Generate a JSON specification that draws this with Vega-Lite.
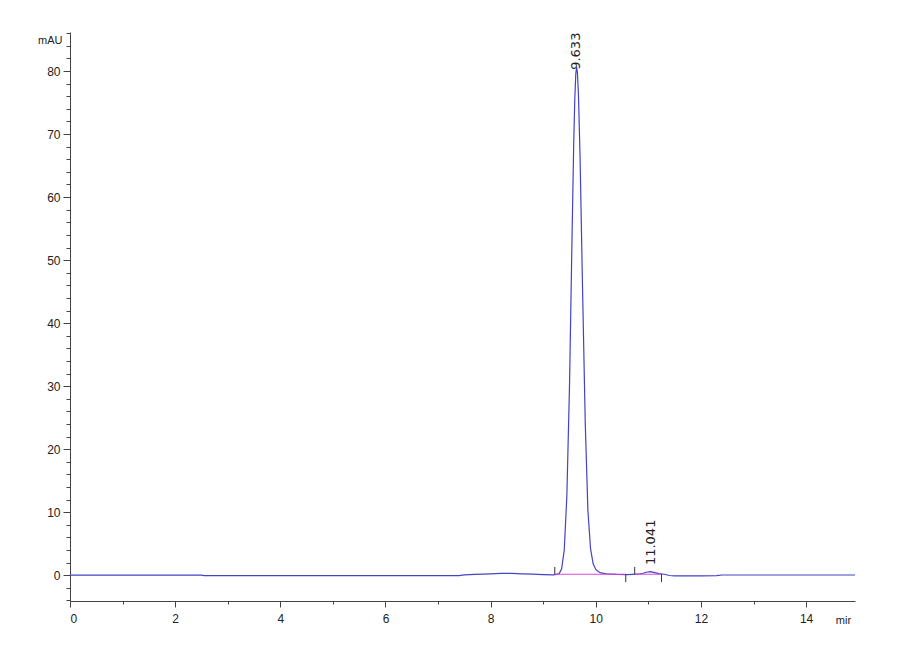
{
  "$schema": "https://vega.github.io/schema/vega-lite/v6.json",
  "width": 785,
  "height": 569,
  "autosize": {"type": "none"},
  "padding": {"left": 70, "top": 32, "right": 45, "bottom": 59},
  "background": "white",
  "config": {
    "view": {"stroke": null},
    "font": "Liberation Sans",
    "axis": {
      "domainColor": "#444",
      "tickColor": "#444",
      "labelColor": "#222",
      "titleColor": "#222",
      "labelFont": "Liberation Sans",
      "titleFont": "Liberation Sans",
      "labelFontSize": 12,
      "titleFontSize": 11,
      "titleFontWeight": "normal",
      "grid": false
    }
  },
  "datasets": {
    "trace": [
      {"t": 0, "mAU": 0}, {"t": 2.5, "mAU": 0}, {"t": 2.55, "mAU": -0.08},
      {"t": 7.4, "mAU": -0.08}, {"t": 7.5, "mAU": 0.05}, {"t": 7.7, "mAU": 0.12},
      {"t": 8.0, "mAU": 0.22}, {"t": 8.2, "mAU": 0.28}, {"t": 8.4, "mAU": 0.28},
      {"t": 8.6, "mAU": 0.22}, {"t": 8.8, "mAU": 0.15}, {"t": 9.0, "mAU": 0.1},
      {"t": 9.2, "mAU": 0.05}, {"t": 9.3, "mAU": 0.2}, {"t": 9.35, "mAU": 0.98},
      {"t": 9.4, "mAU": 4.0}, {"t": 9.45, "mAU": 12.6}, {"t": 9.5, "mAU": 30.0},
      {"t": 9.55, "mAU": 54.5}, {"t": 9.58, "mAU": 68.4}, {"t": 9.6, "mAU": 75.4},
      {"t": 9.62, "mAU": 79.6}, {"t": 9.635, "mAU": 80.6}, {"t": 9.65, "mAU": 79.8},
      {"t": 9.67, "mAU": 76.3}, {"t": 9.7, "mAU": 66.8}, {"t": 9.75, "mAU": 44.7},
      {"t": 9.8, "mAU": 24.0}, {"t": 9.85, "mAU": 10.3}, {"t": 9.9, "mAU": 4.2},
      {"t": 9.95, "mAU": 1.8}, {"t": 10.0, "mAU": 0.9}, {"t": 10.05, "mAU": 0.55},
      {"t": 10.1, "mAU": 0.35}, {"t": 10.2, "mAU": 0.2}, {"t": 10.4, "mAU": 0.12},
      {"t": 10.6, "mAU": 0.1}, {"t": 10.8, "mAU": 0.15}, {"t": 10.9, "mAU": 0.3},
      {"t": 10.98, "mAU": 0.5}, {"t": 11.04, "mAU": 0.55}, {"t": 11.1, "mAU": 0.45},
      {"t": 11.2, "mAU": 0.25}, {"t": 11.3, "mAU": 0.15}, {"t": 11.4, "mAU": -0.05},
      {"t": 11.5, "mAU": -0.12}, {"t": 12.0, "mAU": -0.1}, {"t": 12.3, "mAU": -0.08},
      {"t": 12.4, "mAU": 0.03}, {"t": 14.93, "mAU": 0.03}
    ],
    "base": [
      {"t": 9.22, "t2": 10.57, "v": 0.15},
      {"t": 10.74, "t2": 11.25, "v": 0.15}
    ],
    "marks": [
      {"t": 9.22, "v": 0.15, "v2": 1.3},
      {"t": 10.57, "v": 0.15, "v2": -1.1},
      {"t": 10.74, "v": 0.15, "v2": 1.3},
      {"t": 11.25, "v": 0.15, "v2": -1.1}
    ],
    "labels": [
      {"t": 9.633, "v": 80.2, "text": "9.633"},
      {"t": 11.041, "v": 1.6, "text": "11.041"}
    ]
  },
  "layer": [
    {
      "data": {"name": "trace"},
      "mark": {"type": "line", "color": "#4343c6", "strokeWidth": 1.2},
      "encoding": {
        "x": {
          "field": "t", "type": "quantitative",
          "scale": {"domain": [0, 14.93], "nice": false, "zero": false},
          "axis": {
            "values": [0, 0.5, 1, 1.5, 2, 2.5, 3, 3.5, 4, 4.5, 5, 5.5, 6, 6.5, 7, 7.5, 8, 8.5, 9, 9.5, 10, 10.5, 11, 11.5, 12, 12.5, 13, 13.5, 14, 14.5],
            "tickCount": 200,
            "format": "d",
            "labelExpr": "datum.value % 2 === 0 ? datum.label : ''",
            "labelOverlap": false,
            "tickSize": {"condition": {"test": "datum.value % 2 === 0", "value": 6}, "value": 3},
            "labelPadding": 6,
            "title": "mir", "titleX": 773, "titleY": 19,
            "titleAlign": "center", "titleBaseline": "middle", "titleFontSize": 11
          }
        },
        "y": {
          "field": "mAU", "type": "quantitative",
          "scale": {"domain": [-4.1, 86.2], "nice": false, "zero": false},
          "axis": {
            "values": [-4, -2, 0, 2, 4, 6, 8, 10, 12, 14, 16, 18, 20, 22, 24, 26, 28, 30, 32, 34, 36, 38, 40, 42, 44, 46, 48, 50, 52, 54, 56, 58, 60, 62, 64, 66, 68, 70, 72, 74, 76, 78, 80, 82, 84, 86],
            "tickCount": 200,
            "format": "d",
            "labelExpr": "datum.value % 10 === 0 && datum.value >= 0 && datum.value <= 80 ? datum.label : ''",
            "labelOverlap": false,
            "tickSize": {"condition": {"test": "datum.value % 10 === 0", "value": 7}, "value": 4},
            "labelPadding": 3,
            "title": "mAU", "titleAngle": 0, "titleX": -8, "titleY": 8,
            "titleAlign": "right", "titleBaseline": "middle"
          }
        }
      }
    },
    {
      "data": {"name": "base"},
      "mark": {"type": "rule", "color": "#dd44dd", "strokeWidth": 1},
      "encoding": {
        "x": {"field": "t", "type": "quantitative", "scale": {"domain": [0, 14.93], "nice": false, "zero": false}},
        "x2": {"field": "t2"},
        "y": {"field": "v", "type": "quantitative", "scale": {"domain": [-4.1, 86.2], "nice": false, "zero": false}}
      }
    },
    {
      "data": {"name": "marks"},
      "mark": {"type": "rule", "color": "#333", "strokeWidth": 1},
      "encoding": {
        "x": {"field": "t", "type": "quantitative", "scale": {"domain": [0, 14.93], "nice": false, "zero": false}},
        "y": {"field": "v", "type": "quantitative", "scale": {"domain": [-4.1, 86.2], "nice": false, "zero": false}},
        "y2": {"field": "v2"}
      }
    },
    {
      "data": {"name": "labels"},
      "mark": {"type": "text", "angle": 270, "align": "left", "baseline": "middle", "font": "DejaVu Sans", "fontSize": 13, "color": "#222"},
      "encoding": {
        "x": {"field": "t", "type": "quantitative", "scale": {"domain": [0, 14.93], "nice": false, "zero": false}},
        "y": {"field": "v", "type": "quantitative", "scale": {"domain": [-4.1, 86.2], "nice": false, "zero": false}},
        "text": {"field": "text"}
      }
    }
  ]
}
